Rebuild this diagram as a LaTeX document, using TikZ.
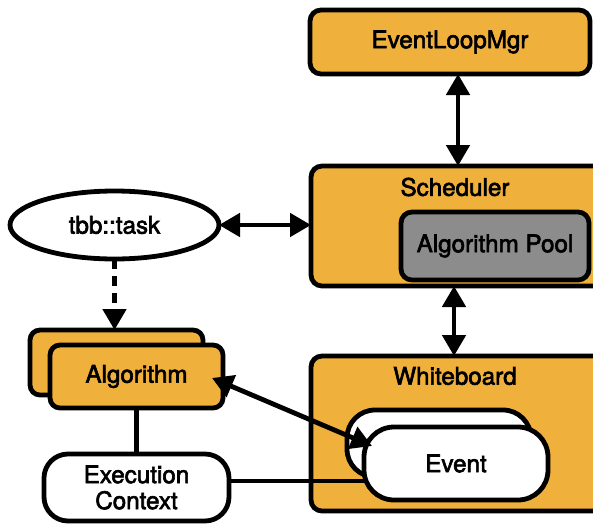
\documentclass[tikz,border=0pt]{standalone}
\usepackage{fontspec}
\setmainfont{TeX Gyre Heros}[FakeBold=2.5]
\usetikzlibrary{arrows.meta,shapes.geometric,calc}
\pgfdeclarelayer{top}
\pgfsetlayers{main,top}
\definecolor{boxorange}{RGB}{240,176,60}
\definecolor{poolgray}{RGB}{140,140,140}
\begin{document}
\begin{tikzpicture}[x=1pt,y=-1pt,
  every node/.style={inner sep=0pt, outer sep=0pt},
  txt/.style={font=\fontsize{24.2}{26}\selectfont},
  base/.style={draw=black, line width=4.8pt, txt},
  obox/.style={base, fill=boxorange, rounded corners=11pt},
  gbox/.style={base, fill=poolgray, rounded corners=11pt},
  wbox/.style={base, fill=white},
  conn/.style={line width=4.8pt, draw=black},
  dbl/.style={conn, {Triangle[length=21pt,width=23pt]}-{Triangle[length=21pt,width=23pt]}},
  sgl/.style={conn, -{Triangle[length=21pt,width=23pt]}}
]
\clip (0,0) rectangle (593,527);
% containers
\node[obox, minimum width=314pt, minimum height=120pt] (sched) at (468,226) {};
\node[txt] (schedlbl) at (455,187) {Scheduler};
\node[gbox, minimum width=188pt, minimum height=68pt] (pool) at (495,246) {Algorithm Pool};
\node[obox, minimum width=314pt, minimum height=155pt] (wb) at (468,433.5) {};
\node[txt] (wblbl) at (455,376) {Whiteboard};
\node[obox, minimum width=280pt, minimum height=64pt] (elm) at (450,42) {EventLoopMgr};
% left side
\node[wbox, ellipse, minimum width=209pt, minimum height=68pt] (tbb) at (114.5,225) {tbb::task};
\node[obox, rounded corners=10pt, minimum width=173pt, minimum height=65pt] (algback) at (116.5,362.5) {};
\node[obox, rounded corners=10pt, minimum width=173pt, minimum height=63pt] (algo) at (136.5,376.5) {Algorithm};
\node[wbox, rounded corners=24pt, minimum width=185pt, minimum height=67pt, align=center] (exec) at (136.5,487.5) {Execution\\Context};
% events
\node[wbox, rounded corners=28pt, minimum width=184pt, minimum height=67pt] (evback) at (439,443.5) {};
\begin{pgfonlayer}{top}
\node[wbox, rounded corners=30pt, minimum width=184pt, minimum height=73pt] (evfront) at (456,463.5) {Event};
\end{pgfonlayer}
\coordinate (ly) at (0,481);
\draw[conn] (exec.east |- ly) -- (evfront.west |- ly);
% connectors
\coordinate (ax1) at (458,0);
\coordinate (ax2) at (454,0);
\draw[dbl] (elm.south -| ax1) -- (sched.north -| ax1);
\draw[dbl] (sched.south -| ax2) -- (wb.north -| ax2);
\draw[dbl] (tbb.east) -- (tbb.east -| sched.west);
\draw[sgl, dash pattern=on 10pt off 7pt] (tbb.south) -- (tbb.south |- algback.north);
\draw[conn] (algo.south) -- (algo.south |- exec.north);
\begin{pgfonlayer}{top}
\coordinate (at1) at ($(algo.east)+(-11,1.5)$);
\coordinate (at2) at ($(evfront.west)+(8,-17.5)$);
\draw[dbl] (at1) -- (at2);
\end{pgfonlayer}
\end{tikzpicture}
\end{document}
